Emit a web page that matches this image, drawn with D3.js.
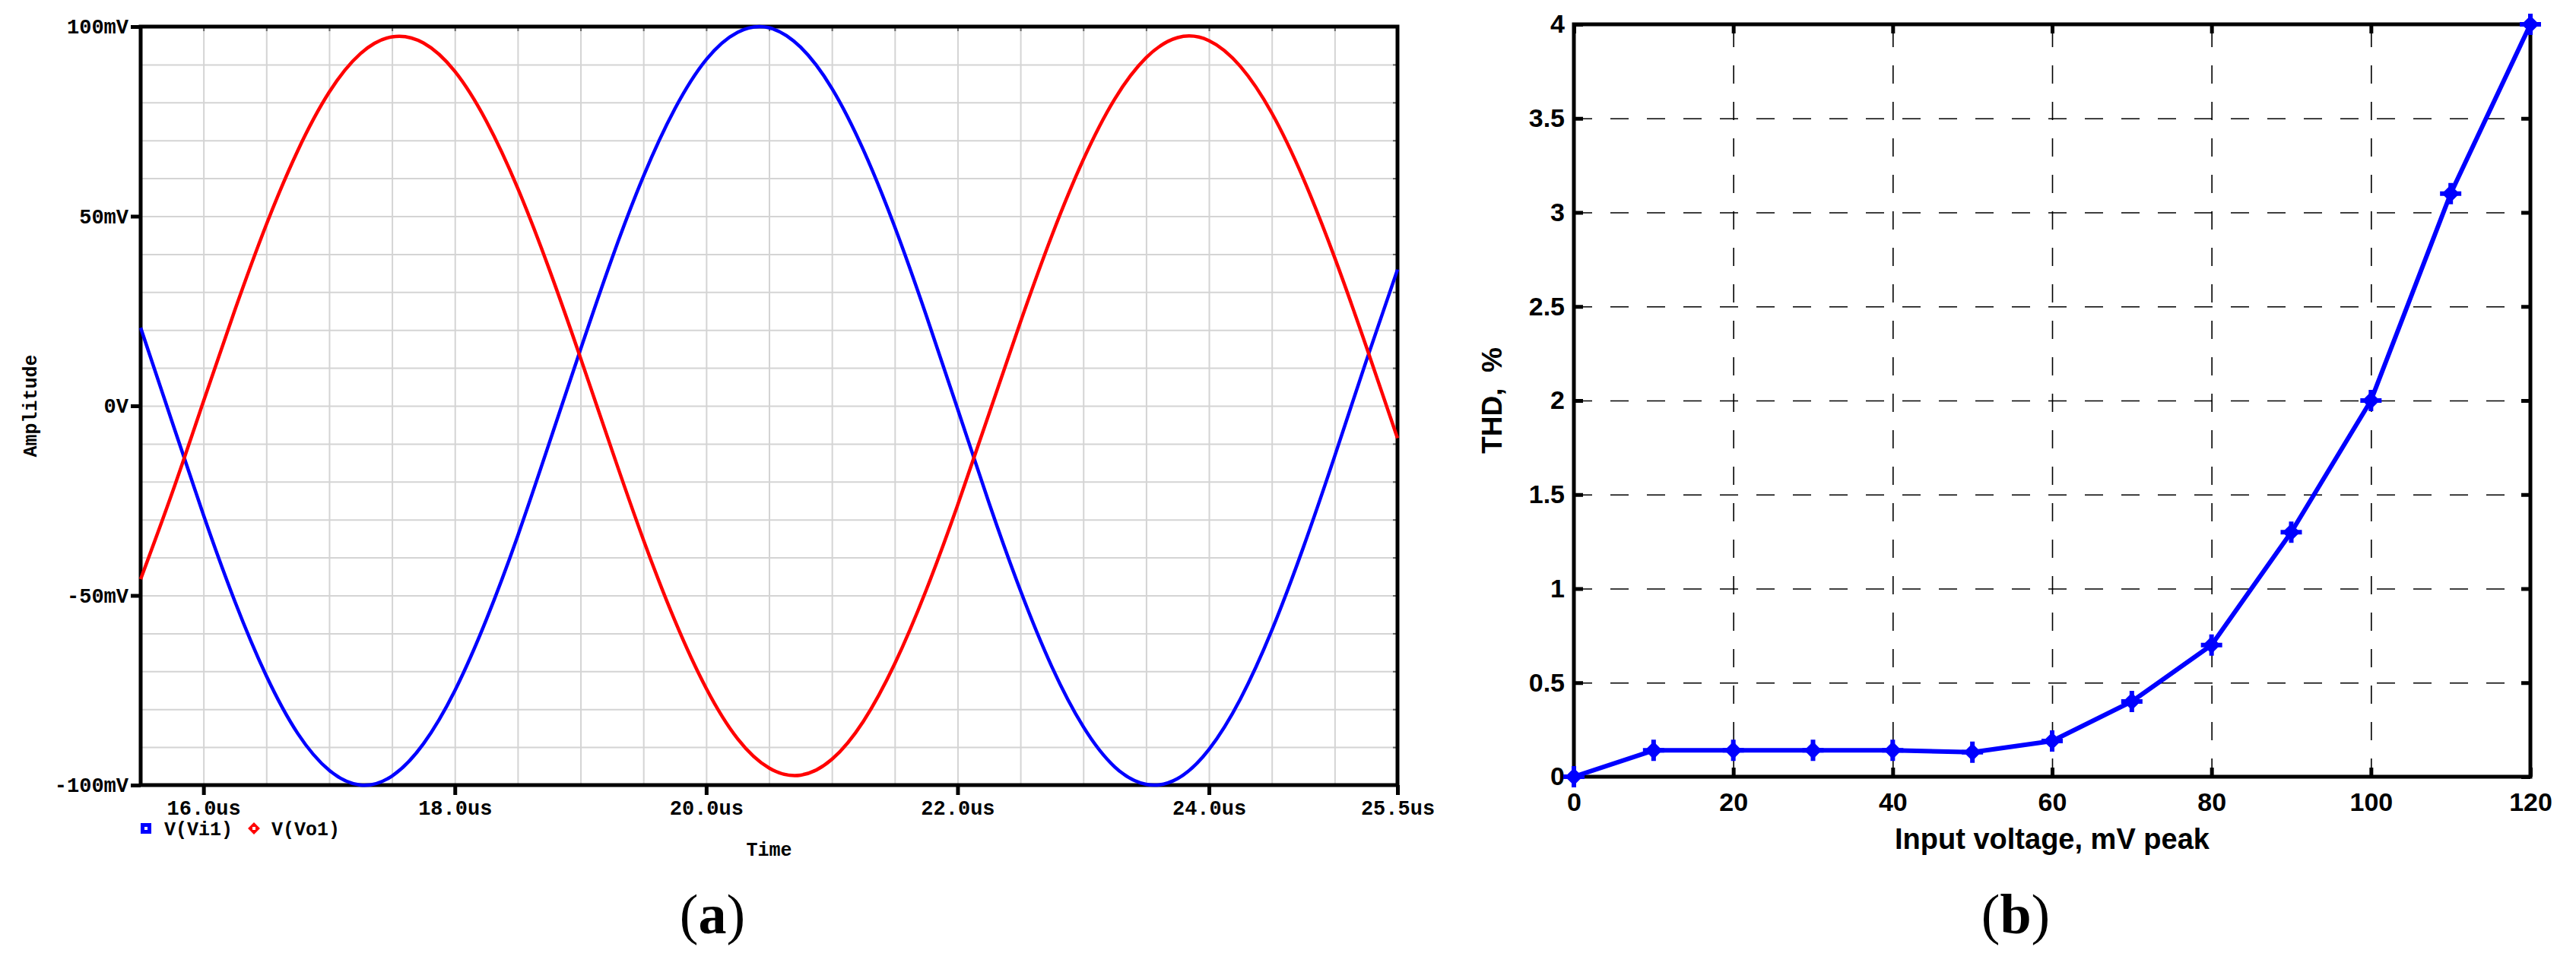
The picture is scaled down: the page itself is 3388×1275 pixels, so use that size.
<!DOCTYPE html>
<html>
<head>
<meta charset="utf-8">
<script src="https://cdn.jsdelivr.net/npm/d3@7"></script>
<style>
body { margin: 0; background: #fff; }
.mono { font-family: "Liberation Mono", "DejaVu Sans Mono", monospace; font-weight: bold; }
.sans { font-family: "Liberation Sans", Arial, sans-serif; font-weight: bold; }
.serif { font-family: "Liberation Serif", "DejaVu Serif", serif; }
</style>
</head>
<body>
<svg id="chart" width="3388" height="1275"></svg>
<script>
// (a) transient sim, values every 0.25us
var timeUs = [15.5, 15.75, 16, 16.25, 16.5, 16.75, 17, 17.25, 17.5, 17.75, 18, 18.25, 18.5, 18.75,
  19, 19.25, 19.5, 19.75, 20, 20.25, 20.5, 20.75, 21, 21.25, 21.5, 21.75, 22, 22.25, 22.5, 22.75,
  23, 23.25, 23.5, 23.75, 24, 24.25, 24.5, 24.75, 25, 25.25, 25.5]
var vi1 = [20.6, -4.2, -28.8, -51.6, -71.2, -86.4, -96.1, -100, -97.6, -89.1, -75.1, -56.4, -34.3, -9.9,
  14.9, 38.9, 60.5, 78.3, 91.3, 98.5, 99.7, 94.6, 83.7, 67.5, 47.2, 23.9, -0.8, -25.6, -48.7, -68.8,
  -84.6, -95.2, -99.8, -98.3, -90.6, -77.3, -59.2, -37.4, -13.3, 11.7, 35.9]
var vo1 = [-45.7, -23.0, 1.2, 25.3, 47.8, 67.3, 82.7, 92.9, 97.3, 95.7, 88.2, 75.1, 57.4, 36.1,
  12.6, -11.7, -35.3, -56.6, -74.5, -87.8, -95.5, -97.4, -93.2, -83.2, -68.0, -48.6, -26.2, -2.1, 22.1, 44.9,
  64.9, 80.9, 91.8, 97.1, 96.3, 89.5, 77.2, 60.0, 39.1, 15.8, -8.5]

var ampTicks = [-100, -50, 0, 50, 100]
var ampLabels = ['-100mV', '-50mV', '0V', '50mV', '100mV']
var ampGrid = [-90, -80, -70, -60, -50, -40, -30, -20, -10, 0, 10, 20, 30, 40, 50, 60, 70, 80, 90]
var timeTicks = [16, 18, 20, 22, 24, 25.5]
var timeLabels = ['16.0us', '18.0us', '20.0us', '22.0us', '24.0us', '25.5us']
var timeGrid = [16, 16.5, 17, 17.5, 18, 18.5, 19, 19.5, 20, 20.5, 21, 21.5, 22, 22.5, 23, 23.5, 24, 24.5, 25]

// (b) THD vs input level
var vin = [0, 10, 20, 30, 40, 50, 60, 70, 80, 90, 100, 110, 120]
var thd = [0, 0.14, 0.14, 0.14, 0.14, 0.13, 0.19, 0.40, 0.70, 1.30, 2.00, 3.10, 4.00]
var vinTicks = [0, 20, 40, 60, 80, 100, 120]
var thdTicks = [0, 0.5, 1, 1.5, 2, 2.5, 3, 3.5, 4]

var svg = d3.select('#chart')

function styleTicks(g, color, width){
  g.select('.domain').remove()
  g.selectAll('.tick line').attr('stroke', color).attr('stroke-width', width)
}

// ---------------- (a)
var xA = d3.scaleLinear().domain([15.5, 25.5]).range([185, 1838])
var yA = d3.scaleLinear().domain([-100, 100]).range([1033, 35])
var [l, r] = xA.range(), [b, t] = yA.range()

var a = svg.append('g')

// light grid
a.append('g').attr('transform', `translate(0,${b})`)
  .call(d3.axisBottom(xA).tickValues(timeGrid).tickSize(-(b - t)).tickFormat(''))
  .call(styleTicks, '#d4d4d4', 2)
a.append('g').attr('transform', `translate(${l},0)`)
  .call(d3.axisLeft(yA).tickValues(ampGrid).tickSize(-(r - l)).tickFormat(''))
  .call(styleTicks, '#d4d4d4', 2)

// small inner ticks on top and right
a.append('g').attr('transform', `translate(0,${t})`)
  .call(d3.axisTop(xA).tickValues(timeGrid).tickSize(-6).tickFormat(''))
  .call(styleTicks, '#666', 2)
a.append('g').attr('transform', `translate(${r},0)`)
  .call(d3.axisRight(yA).tickValues(ampGrid).tickSize(-6).tickFormat(''))
  .call(styleTicks, '#666', 2)

a.append('rect')
  .attr('x', l).attr('y', t).attr('width', r - l).attr('height', b - t)
  .attr('fill', 'none').attr('stroke', '#000').attr('stroke-width', 5)

a.append('g').attr('transform', `translate(${l},0)`)
  .call(d3.axisLeft(yA).tickValues(ampTicks).tickSize(13).tickPadding(3)
    .tickFormat((d, i) => ampLabels[i]))
  .call(styleTicks, '#000', 5)
a.append('g').attr('transform', `translate(0,${b})`)
  .call(d3.axisBottom(xA).tickValues(timeTicks).tickSize(13).tickPadding(7)
    .tickFormat((d, i) => timeLabels[i]))
  .call(styleTicks, '#000', 5)
a.selectAll('.tick text').attr('class', 'mono').attr('font-size', 27).attr('fill', '#000')

var lineA = d3.line().curve(d3.curveNatural)
  .x((d, i) => xA(timeUs[i]))
  .y(d => yA(d))

a.append('path').datum(vi1).attr('d', lineA)
  .attr('fill', 'none').attr('stroke', '#0000ff').attr('stroke-width', 4.5)
a.append('path').datum(vo1).attr('d', lineA)
  .attr('fill', 'none').attr('stroke', '#ff0000').attr('stroke-width', 4.5)

a.append('text').attr('class', 'mono').attr('font-size', 25)
  .attr('x', (l + r) / 2).attr('y', 1126).attr('text-anchor', 'middle').text('Time')
a.append('text').attr('class', 'mono').attr('font-size', 25)
  .attr('transform', `translate(48,${yA(0)}) rotate(-90)`).attr('text-anchor', 'middle').text('Amplitude')

// PSpice style legend
var leg = a.append('g').attr('class', 'mono').attr('font-size', 25)
leg.append('rect').attr('x', 185).attr('y', 1083).attr('width', 14).attr('height', 14).attr('fill', '#0000ff')
leg.append('rect').attr('x', 190).attr('y', 1088).attr('width', 4).attr('height', 4).attr('fill', '#fff')
leg.append('text').attr('x', 216).attr('y', 1099).text('V(Vi1)')
leg.append('path').attr('d', d3.symbol(d3.symbolDiamond2).size(160)())
  .attr('transform', 'translate(334,1090)').attr('fill', '#ff0000')
leg.append('rect').attr('x', 332).attr('y', 1088).attr('width', 4).attr('height', 4).attr('fill', '#fff')
leg.append('text').attr('x', 357).attr('y', 1099).text('V(Vo1)')

// ---------------- (b)
var xB = d3.scaleLinear().domain([0, 120]).range([2070, 3328])
var yB = d3.scaleLinear().domain([0, 4]).range([1022, 32])
var [bl, br] = xB.range(), [bb, bt] = yB.range()

var g = svg.append('g')

// dashed grid
g.append('g').attr('transform', `translate(0,${bb})`)
  .call(d3.axisBottom(xB).tickValues(vinTicks.slice(1, -1)).tickSize(-(bb - bt)).tickFormat(''))
  .call(styleTicks, '#000', 1.6)
g.append('g').attr('transform', `translate(${bl},0)`)
  .call(d3.axisLeft(yB).tickValues(thdTicks.slice(1, -1)).tickSize(-(br - bl)).tickFormat(''))
  .call(styleTicks, '#000', 1.6)
g.selectAll('.tick line').attr('stroke-dasharray', '24,24')

// inward ticks all round
g.append('g').attr('transform', `translate(0,${bt})`)
  .call(d3.axisTop(xB).tickValues(vinTicks).tickSize(-12).tickFormat(''))
  .call(styleTicks, '#000', 5)
g.append('g').attr('transform', `translate(${br},0)`)
  .call(d3.axisRight(yB).tickValues(thdTicks).tickSize(-12).tickFormat(''))
  .call(styleTicks, '#000', 5)
var bx = g.append('g').attr('transform', `translate(0,${bb})`)
  .call(d3.axisBottom(xB).tickValues(vinTicks).tickSizeInner(-12).tickPadding(21))
  .call(styleTicks, '#000', 5)
var by = g.append('g').attr('transform', `translate(${bl},0)`)
  .call(d3.axisLeft(yB).tickValues(thdTicks).tickSizeInner(-12).tickPadding(12).tickFormat(d3.format('')))
  .call(styleTicks, '#000', 5)
bx.selectAll('text').attr('class', 'sans').attr('font-size', 34).attr('fill', '#000')
by.selectAll('text').attr('class', 'sans').attr('font-size', 34).attr('fill', '#000')

g.append('rect')
  .attr('x', bl).attr('y', bt).attr('width', br - bl).attr('height', bb - bt)
  .attr('fill', 'none').attr('stroke', '#000').attr('stroke-width', 5)

var lineB = d3.line().x((d, i) => xB(vin[i])).y(d => yB(d))
g.append('path').datum(thd).attr('d', lineB)
  .attr('fill', 'none').attr('stroke', '#0000ff').attr('stroke-width', 6).attr('stroke-linejoin', 'round')

var mk = g.append('g').selectAll('g').data(thd).join('g')
  .attr('transform', (d, i) => `translate(${xB(vin[i])},${yB(d)})`)
mk.append('path').attr('d', d3.symbol(d3.symbolDiamond2).size(340)()).attr('fill', '#0000ff')
mk.append('path').attr('d', 'M-14,0H14M0,-14V14').attr('stroke', '#0000ff').attr('stroke-width', 6)

g.append('text').attr('class', 'sans').attr('font-size', 38)
  .attr('x', (bl + br) / 2).attr('y', 1117).attr('text-anchor', 'middle').text('Input voltage, mV peak')
g.append('text').attr('class', 'sans').attr('font-size', 37)
  .attr('transform', `translate(1975,${(bb + bt) / 2}) rotate(-90)`).attr('text-anchor', 'middle')
  .attr('xml:space', 'preserve').text('THD,  %')

// sub-figure tags
function tag(x, s){
  var tx = svg.append('text').attr('class', 'serif').attr('font-size', 74)
    .attr('x', x).attr('y', 1228).attr('text-anchor', 'middle')
  tx.append('tspan').text('(')
  tx.append('tspan').attr('font-weight', 'bold').text(s)
  tx.append('tspan').text(')')
}
tag(937, 'a')
tag(2651, 'b')
</script>
</body>
</html>
